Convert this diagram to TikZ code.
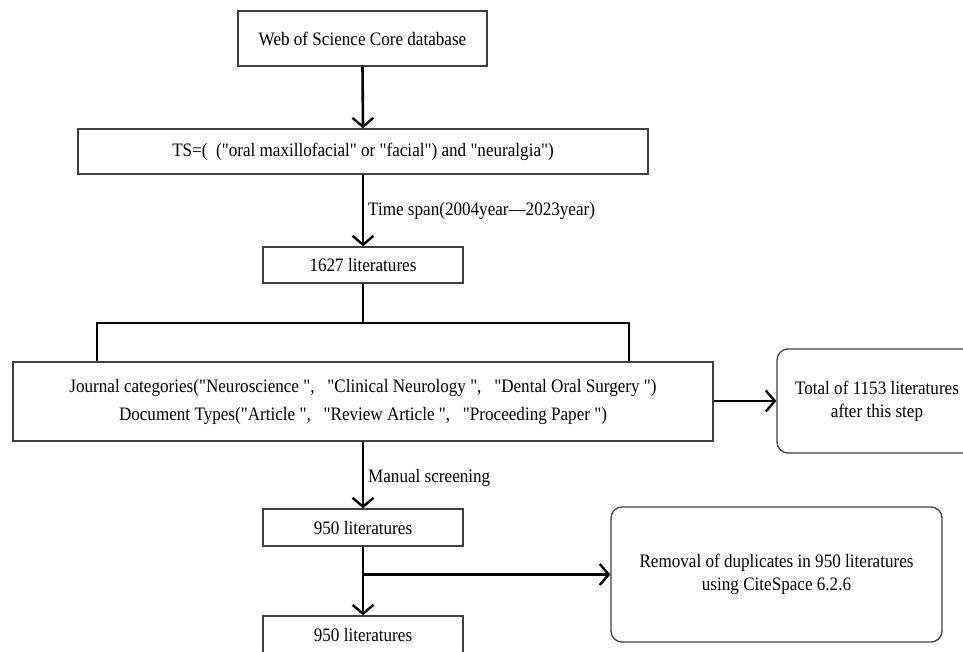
\documentclass[tikz,border=0pt]{standalone}
\usepackage{fontspec}
\setmainfont{Liberation Serif}[FakeStretch=0.9, Ligatures=TeXOff]
\usetikzlibrary{arrows.meta}
\begin{document}
\begin{tikzpicture}[x=1pt,y=-1pt,
  every node/.style={font=\fontsize{19}{23}\selectfont, align=center, inner sep=0pt},
  boxnode/.style={draw=black!75, line width=1.3pt, rectangle},
  roundnode/.style={boxnode, rounded corners=11pt},
  flow/.style={line width=2.6pt, black},
  flowarrow/.style={flow, -{Straight Barb[length=9pt,width=21pt,line width=2.4pt]}},
  lbl/.style={anchor=west}]
\useasboundingbox (0,0) rectangle (963,651);
% boxes
\node[boxnode, minimum width=249pt, minimum height=55pt] (wos) at (362.5,38.5) {Web of Science Core database};
\node[boxnode, minimum width=570pt, minimum height=45pt] (ts) at (363,151.5) {TS=(\ \ ("oral maxillofacial" or "facial") and "neuralgia")};
\node[boxnode, minimum width=200pt, minimum height=36pt] (n1627) at (363,265) {1627 literatures};
\node[boxnode, minimum width=700pt, minimum height=79pt] (filter) at (363,401.5) {Journal categories("Neuroscience\ ",\ \ \ "Clinical Neurology\ ",\ \ \ "Dental Oral Surgery\ ")\\[5pt]Document Types("Article\ ",\ \ \ "Review Article\ ",\ \ \ "Proceeding Paper\ ")};
\node[roundnode, minimum width=200pt, minimum height=104pt] (total) at (877,401) {Total of 1153 literatures\\after this step};
\node[boxnode, minimum width=200pt, minimum height=37pt] (n950a) at (363,527.5) {950 literatures};
\node[roundnode, minimum width=331pt, minimum height=135pt] (removal) at (776.5,574.5) {Removal of duplicates in 950 literatures\\using CiteSpace 6.2.6};
\node[boxnode, minimum width=200pt, minimum height=37pt] (n950b) at (363,634.5) {950 literatures};
% labels
\node[lbl] (lspan) at (368,211) {Time span(2004year—2023year)};
\node[lbl] (lman) at (368,478) {Manual screening};
% connectors
\coordinate (hub) at (363,323);
\coordinate (hl) at (97,323);
\coordinate (hr) at (629,323);
\coordinate (br) at (363,574.5);
\draw[flowarrow] (wos.south) -- (ts.north);
\draw[flowarrow] (ts.south) -- (n1627.north);
\draw[flow] (n1627.south) -- (hub);
\draw[flow] (hl |- filter.north) -- (hl) -- (hr) -- (hr |- filter.north);
\draw[flowarrow] (filter.east |- total.west) -- (total.west);
\draw[flowarrow] (filter.south) -- (n950a.north);
\draw[flowarrow] (n950a.south) -- (n950b.north);
\draw[flowarrow] (br) -- (removal.west);
\end{tikzpicture}
\end{document}
